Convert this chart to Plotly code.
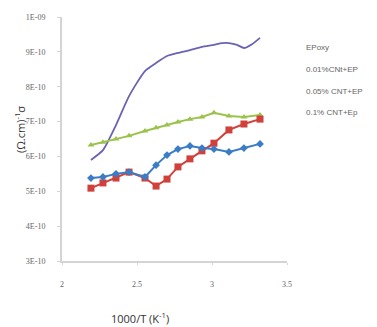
import plotly.graph_objects as go

# Data (x = 1000/T in K^-1, y = conductivity in (Ohm.cm)^-1)
x_pts = [2.193, 2.273, 2.36, 2.447, 2.553, 2.627, 2.70, 2.773, 2.853, 2.933, 3.013, 3.113, 3.213, 3.32]
x_epoxy = [2.193, 2.273, 2.36, 2.447, 2.553, 2.627, 2.70, 2.773, 2.853, 2.933, 3.013, 3.067, 3.113, 3.167, 3.213, 3.267, 3.32]
epoxy = [5.90e-10, 6.18e-10, 6.90e-10, 7.73e-10, 8.45e-10, 8.68e-10, 8.88e-10, 8.97e-10, 9.05e-10, 9.14e-10, 9.20e-10, 9.25e-10, 9.25e-10, 9.20e-10, 9.11e-10, 9.22e-10, 9.40e-10]
cnt001 = [5.38e-10, 5.41e-10, 5.50e-10, 5.55e-10, 5.41e-10, 5.75e-10, 6.04e-10, 6.21e-10, 6.30e-10, 6.24e-10, 6.21e-10, 6.13e-10, 6.24e-10, 6.36e-10]
cnt005 = [5.09e-10, 5.24e-10, 5.38e-10, 5.55e-10, 5.38e-10, 5.15e-10, 5.35e-10, 5.70e-10, 5.93e-10, 6.16e-10, 6.38e-10, 6.76e-10, 6.93e-10, 7.07e-10]
cnt01 = [6.33e-10, 6.41e-10, 6.50e-10, 6.59e-10, 6.73e-10, 6.82e-10, 6.90e-10, 6.99e-10, 7.07e-10, 7.13e-10, 7.25e-10, 7.16e-10, 7.13e-10, 7.19e-10]

legend_names = ["EPoxy", "0.01%CNt+EP", "0.05% CNT+EP", "0.1% CNT+Ep"]
y_tickvals = [3e-10, 4e-10, 5e-10, 6e-10, 7e-10, 8e-10, 9e-10, 1e-9]
y_ticktext = ["3E-10", "4E-10", "5E-10", "6E-10", "7E-10", "8E-10", "9E-10", "1E-09"]
x_tickvals = [2, 2.5, 3, 3.5]
x_ticktext = ["2", "2.5", "3", "3.5"]

fig = go.Figure()
fig.add_trace(go.Scatter(x=x_epoxy, y=epoxy, mode="lines", name=legend_names[0],
                         line=dict(color="#6a62b2", width=1.8, shape="spline", smoothing=0.6)))
fig.add_trace(go.Scatter(x=x_pts, y=cnt01, mode="lines+markers", name=legend_names[3],
                         line=dict(color="#9bc34b", width=2),
                         marker=dict(symbol="triangle-up", size=6, color="#9bc34b")))
fig.add_trace(go.Scatter(x=x_pts, y=cnt005, mode="lines+markers", name=legend_names[2],
                         line=dict(color="#d0413b", width=2),
                         marker=dict(symbol="square", size=7, color="#d0413b")))
fig.add_trace(go.Scatter(x=x_pts, y=cnt001, mode="lines+markers", name=legend_names[1],
                         line=dict(color="#3b7cc6", width=2),
                         marker=dict(symbol="diamond", size=6, color="#3b7cc6")))

# legend as text entries (no symbols, as in the reference)
leg_y = [47, 69, 91, 112]
for name, yp in zip(legend_names, leg_y):
    fig.add_annotation(xref="paper", yref="paper", x=(304 - 62) / 225.0, y=(261 - yp) / 244.0,
                       text=name, showarrow=False, xanchor="left", yanchor="middle",
                       font=dict(family="Liberation Sans", size=8, color="#666"))

fig.add_annotation(xref="paper", yref="paper", x=(20 - 62) / 225.0, y=(261 - 130) / 244.0,
                   text="(Ω.cm)<sup>-1</sup>σ", textangle=-90, showarrow=False,
                   xanchor="center", yanchor="middle",
                   font=dict(family="Open Sans", size=11, color="#333"))
fig.add_annotation(xref="paper", yref="paper", x=(140 - 62) / 225.0, y=(261 - 318) / 244.0,
                   text="1000/T (K<sup>-1</sup>)", showarrow=False,
                   xanchor="center", yanchor="middle",
                   font=dict(family="Open Sans", size=11, color="#333"))

fig.update_layout(
    width=377, height=327,
    margin=dict(l=62, r=90, t=17, b=66),
    paper_bgcolor="white", plot_bgcolor="white",
    showlegend=False,
    xaxis=dict(range=[2, 3.5], tickvals=x_tickvals, ticktext=x_ticktext,
               showgrid=False, zeroline=False, showline=True, linecolor="#d4d4d4", linewidth=2,
               ticks="outside", ticklen=2, tickcolor="#d4d4d4", ticklabelstandoff=12,
               tickfont=dict(family="Liberation Serif", size=8, color="#666")),
    yaxis=dict(range=[3e-10, 1e-9], tickvals=y_tickvals, ticktext=y_ticktext,
               showgrid=False, zeroline=False, showline=True, linecolor="#d4d4d4", linewidth=2,
               ticks="outside", ticklen=3, tickcolor="#d4d4d4", ticklabelstandoff=10,
               tickfont=dict(family="Liberation Serif", size=8, color="#666")),
)

fig.write_html("out.html")
